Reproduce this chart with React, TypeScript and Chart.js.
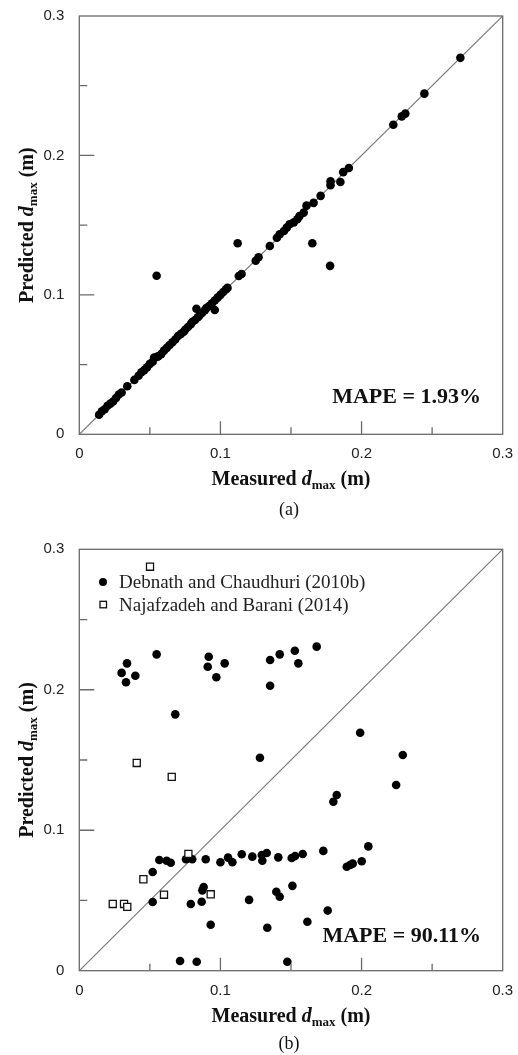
import React, { useEffect, useRef } from "react";
import { Chart, registerables } from "chart.js";

Chart.register(...registerables);

// ---------- data ----------
const AXIS_MIN = 0;
const AXIS_MAX = 0.3;
const MAJOR_TICKS = [0.1, 0.2];
const MINOR_TICKS = [0.05, 0.15, 0.25];
const DIAGONAL = [0, 0.3];

// panel (a)
const measuredA = [
  0.014, 0.016, 0.018, 0.020, 0.022, 0.024, 0.026, 0.028, 0.030, 0.034, 0.039,
  0.042, 0.044, 0.046, 0.048, 0.050, 0.052, 0.053, 0.055, 0.056, 0.058, 0.060,
  0.062, 0.064, 0.066, 0.068, 0.070, 0.072, 0.074, 0.075, 0.077, 0.079, 0.080,
  0.082, 0.083, 0.084, 0.085, 0.087, 0.089, 0.090, 0.092, 0.094, 0.096, 0.096,
  0.098, 0.100, 0.102, 0.104, 0.105, 0.113, 0.115, 0.125, 0.127, 0.135, 0.140,
  0.142, 0.145, 0.147, 0.149, 0.152, 0.1545, 0.156, 0.159, 0.161, 0.166, 0.171,
  0.178, 0.178, 0.185, 0.187, 0.191, 0.2225, 0.2285, 0.231, 0.2445, 0.270,
  0.0548, 0.1122, 0.1651, 0.1777,
];
const predictedA = [
  0.014, 0.0165, 0.018, 0.0205, 0.022, 0.0235, 0.026, 0.0285, 0.030, 0.0345, 0.039,
  0.042, 0.0445, 0.046, 0.048, 0.0505, 0.052, 0.055, 0.0555, 0.056, 0.0575, 0.060,
  0.062, 0.064, 0.066, 0.068, 0.0705, 0.072, 0.0735, 0.075, 0.077, 0.079, 0.0805,
  0.082, 0.090, 0.084, 0.085, 0.087, 0.089, 0.0905, 0.092, 0.094, 0.0892, 0.096,
  0.098, 0.100, 0.102, 0.104, 0.105, 0.1135, 0.115, 0.1245, 0.127, 0.135, 0.141,
  0.1435, 0.1458, 0.1482, 0.1506, 0.152, 0.1542, 0.1565, 0.159, 0.164, 0.166, 0.171,
  0.1815, 0.1787, 0.181, 0.188, 0.191, 0.222, 0.228, 0.230, 0.2443, 0.270,
  0.1137, 0.137, 0.137, 0.1208,
];

// panel (b)
const seriesNames = ["Debnath and Chaudhuri (2010b)", "Najafzadeh and Barani (2014)"];
const measuredDebnath = [
  0.030, 0.0338, 0.0331, 0.0397, 0.0548, 0.068, 0.0917, 0.091, 0.0971, 0.103,
  0.1352, 0.1352, 0.142, 0.1527, 0.1552, 0.1682, 0.199, 0.2292, 0.128, 0.2245,
  0.180, 0.1824, 0.2048, 0.1729, 0.2001, 0.1895, 0.1919, 0.1937, 0.052, 0.0567,
  0.0619, 0.0648, 0.0756, 0.080, 0.0896, 0.100, 0.1054, 0.1085, 0.1151, 0.1226,
  0.1293, 0.1328, 0.1297, 0.141, 0.1505, 0.1529, 0.1583, 0.052, 0.079, 0.0867,
  0.0881, 0.0872, 0.0931, 0.1203, 0.1332, 0.1396, 0.142, 0.151, 0.1616, 0.176,
  0.0714, 0.0832, 0.1474,
];
const predictedDebnath = [
  0.212, 0.2188, 0.2053, 0.210, 0.2252, 0.1825, 0.2235, 0.2164, 0.2089, 0.2188,
  0.2212, 0.2029, 0.2252, 0.2278, 0.2188, 0.2307, 0.1694, 0.1536, 0.1516, 0.1322,
  0.1203, 0.1251, 0.0885, 0.0853, 0.0779, 0.074, 0.0752, 0.0762, 0.0703, 0.0788,
  0.0783, 0.0769, 0.0793, 0.0793, 0.0793, 0.0772, 0.0805, 0.0772, 0.0829, 0.0812,
  0.0824, 0.0838, 0.0783, 0.0807, 0.0802, 0.0816, 0.0831, 0.0489, 0.0475, 0.0491,
  0.0596, 0.0572, 0.0327, 0.0504, 0.0306, 0.0562, 0.0526, 0.0604, 0.0348, 0.0428,
  0.0069, 0.0064, 0.0064,
];
const measuredNajaf = [0.0501, 0.0407, 0.0655, 0.0773, 0.0454, 0.060, 0.0931, 0.0237, 0.0317, 0.034];
const predictedNajaf = [0.2876, 0.1479, 0.138, 0.0831, 0.0651, 0.0541, 0.0544, 0.0475, 0.0475, 0.0454];

const mapeA = "MAPE = 1.93%";
const mapeB = "MAPE = 90.11%";

// ---------- helpers ----------
const SERIF = "'Liberation Serif', 'Times New Roman', serif";
const SANS = "'Liberation Sans', Arial, sans-serif";
const FRAME = "#6a6a6a";

const pts = (xs: number[], ys: number[]) => xs.map((x, i) => ({ x, y: ys[i] }));

type PanelProps = {
  top: number;
  height: number;
  plotTop: number;
  plotBottom: number;
  datasets: any[];
  mape: string;
  mapeBaselineOffset: number;
  caption: string;
  captionBaseline: number;
  titleOffset: number;
  legend: boolean;
};

function drawXTitle(ctx: CanvasRenderingContext2D, cx: number, baseline: number) {
  const parts = [
    { t: "Measured ", f: `bold 20px ${SERIF}`, dy: 0 },
    { t: "d", f: `italic bold 20px ${SERIF}`, dy: 0 },
    { t: "max", f: `bold 13px ${SERIF}`, dy: 4 },
    { t: " (m)", f: `bold 20px ${SERIF}`, dy: 0 },
  ];
  let total = 0;
  for (const p of parts) {
    ctx.font = p.f;
    total += ctx.measureText(p.t).width;
  }
  let x = cx - total / 2;
  ctx.textAlign = "left";
  ctx.textBaseline = "alphabetic";
  for (const p of parts) {
    ctx.font = p.f;
    ctx.fillText(p.t, x, baseline + p.dy);
    x += ctx.measureText(p.t).width;
  }
}

function drawYTitle(ctx: CanvasRenderingContext2D, baselineX: number, cy: number) {
  ctx.save();
  ctx.translate(baselineX, cy);
  ctx.rotate(-Math.PI / 2);
  const parts = [
    { t: "Predicted ", f: `bold 20px ${SERIF}`, dy: 0 },
    { t: "d", f: `italic bold 20px ${SERIF}`, dy: 0 },
    { t: "max", f: `bold 13px ${SERIF}`, dy: 4 },
    { t: " (m)", f: `bold 20px ${SERIF}`, dy: 0 },
  ];
  let total = 0;
  for (const p of parts) {
    ctx.font = p.f;
    total += ctx.measureText(p.t).width;
  }
  let x = -total / 2;
  ctx.textAlign = "left";
  ctx.textBaseline = "alphabetic";
  for (const p of parts) {
    ctx.font = p.f;
    ctx.fillText(p.t, x, p.dy);
    x += ctx.measureText(p.t).width;
  }
  ctx.restore();
}

function Panel(props: PanelProps) {
  const ref = useRef<HTMLCanvasElement | null>(null);
  useEffect(() => {
    if (!ref.current) return;
    const decor = {
      id: "decor",
      afterDatasetsDraw(chart: any) {
        const ctx: CanvasRenderingContext2D = chart.ctx;
        const a = chart.chartArea;
        const xs = chart.scales.x;
        const ys = chart.scales.y;
        ctx.save();
        // frame
        ctx.strokeStyle = FRAME;
        ctx.lineWidth = 1.3;
        ctx.strokeRect(a.left, a.top, a.right - a.left, a.bottom - a.top);
        // ticks (inward)
        ctx.beginPath();
        for (const v of MAJOR_TICKS) {
          const py = ys.getPixelForValue(v);
          ctx.moveTo(a.left, py);
          ctx.lineTo(a.left + 15, py);
          const px = xs.getPixelForValue(v);
          ctx.moveTo(px, a.bottom);
          ctx.lineTo(px, a.bottom - 13);
        }
        for (const v of MINOR_TICKS) {
          const py = ys.getPixelForValue(v);
          ctx.moveTo(a.left, py);
          ctx.lineTo(a.left + 8, py);
          const px = xs.getPixelForValue(v);
          ctx.moveTo(px, a.bottom);
          ctx.lineTo(px, a.bottom - 7);
        }
        ctx.stroke();

        ctx.fillStyle = "#111";
        // axis titles
        drawXTitle(ctx, (a.left + a.right) / 2, a.bottom + props.titleOffset);
        drawYTitle(ctx, 33, (a.top + a.bottom) / 2);
        // MAPE
        ctx.font = `bold 22px ${SERIF}`;
        ctx.textAlign = "right";
        ctx.textBaseline = "alphabetic";
        ctx.fillText(props.mape, 481, a.bottom - props.mapeBaselineOffset);
        // caption
        ctx.font = `18px ${SERIF}`;
        ctx.textAlign = "center";
        ctx.fillText(props.caption, (a.left + a.right) / 2 - 2, props.captionBaseline);
        // legend
        if (props.legend) {
          ctx.font = `19px ${SERIF}`;
          ctx.textAlign = "left";
          ctx.fillStyle = "#222";
          const y1 = a.top + 32.7;
          ctx.beginPath();
          ctx.arc(103, y1, 4, 0, Math.PI * 2);
          ctx.fillStyle = "#000";
          ctx.fill();
          ctx.fillStyle = "#222";
          ctx.fillText(seriesNames[0], 119, a.top + 39);
          const y2 = a.top + 55;
          ctx.fillStyle = "#fff";
          ctx.strokeStyle = "#111";
          ctx.lineWidth = 1.3;
          ctx.fillRect(100, y2 - 3, 6.5, 6.5);
          ctx.strokeRect(100, y2 - 3, 6.5, 6.5);
          ctx.fillStyle = "#222";
          ctx.fillText(seriesNames[1], 119, a.top + 61.4);
        }
        ctx.restore();
      },
    };
    const plotLeft = 79.3;
    const plotRight = 502.7;
    const chart = new Chart(ref.current, {
      type: "scatter",
      data: { datasets: props.datasets },
      options: {
        animation: false,
        responsive: false,
        maintainAspectRatio: false,
        devicePixelRatio: 1,
        layout: {
          padding: { left: 0, right: 518 - plotRight, top: props.plotTop, bottom: 0 },
        },
        plugins: { legend: { display: false }, tooltip: { enabled: false } },
        scales: {
          x: {
            type: "linear",
            min: AXIS_MIN,
            max: AXIS_MAX,
            grid: { display: false },
            border: { display: false },
            ticks: {
              stepSize: 0.1,
              padding: 3,
              color: "#222",
              font: { family: SANS, size: 15 },
              callback: (v: any) => String(Math.round(Number(v) * 10) / 10),
            },
            afterFit: (s: any) => {
              s.height = props.height - props.plotBottom;
            },
          },
          y: {
            type: "linear",
            min: AXIS_MIN,
            max: AXIS_MAX,
            grid: { display: false },
            border: { display: false },
            ticks: {
              stepSize: 0.1,
              padding: 7,
              color: "#222",
              font: { family: SANS, size: 15 },
              callback: (v: any) => String(Math.round(Number(v) * 10) / 10),
            },
            afterFit: (s: any) => {
              s.width = plotLeft;
            },
          },
        },
      },
      plugins: [decor],
    } as any);
    return () => chart.destroy();
  }, []);
  return (
    <canvas
      ref={ref}
      width={518}
      height={props.height}
      style={{ position: "absolute", left: 0, top: props.top, width: 518, height: props.height }}
    />
  );
}

const diagonalDataset = {
  type: "line",
  data: pts(DIAGONAL, DIAGONAL),
  borderColor: "#7a7a7a",
  borderWidth: 1.2,
  pointRadius: 0,
  showLine: true,
  fill: false,
  order: 5,
};

export default function App() {
  useEffect(() => {
    document.body.style.margin = "0";
    document.body.style.background = "#fff";
  }, []);
  const dsA = [
    { ...diagonalDataset },
    {
      label: "a",
      data: pts(measuredA, predictedA),
      backgroundColor: "#000",
      borderColor: "#000",
      borderWidth: 0,
      pointRadius: 4.3,
      order: 1,
    },
  ];
  const dsB = [
    { ...diagonalDataset },
    {
      label: seriesNames[0],
      data: pts(measuredDebnath, predictedDebnath),
      backgroundColor: "#000",
      borderColor: "#000",
      borderWidth: 0,
      pointRadius: 4.3,
      order: 1,
    },
    {
      label: seriesNames[1],
      data: pts(measuredNajaf, predictedNajaf),
      pointStyle: "rect",
      backgroundColor: "#fff",
      borderColor: "#111",
      borderWidth: 1.3,
      pointRadius: 5,
      order: 0,
    },
  ];
  return (
    <div style={{ position: "absolute", left: 0, top: 0, width: 518, height: 1055, background: "#fff" }}>
      <Panel
        top={0}
        height={530}
        plotTop={14}
        plotBottom={434.3}
        datasets={dsA}
        mape={mapeA}
        mapeBaselineOffset={31.6}
        caption="(a)"
        captionBaseline={515}
        titleOffset={51}
        legend={false}
      />
      <Panel
        top={530}
        height={525}
        plotTop={19.3}
        plotBottom={440.7}
        datasets={dsB}
        mape={mapeB}
        mapeBaselineOffset={29}
        caption="(b)"
        captionBaseline={519}
        titleOffset={51}
        legend={true}
      />
    </div>
  );
}
